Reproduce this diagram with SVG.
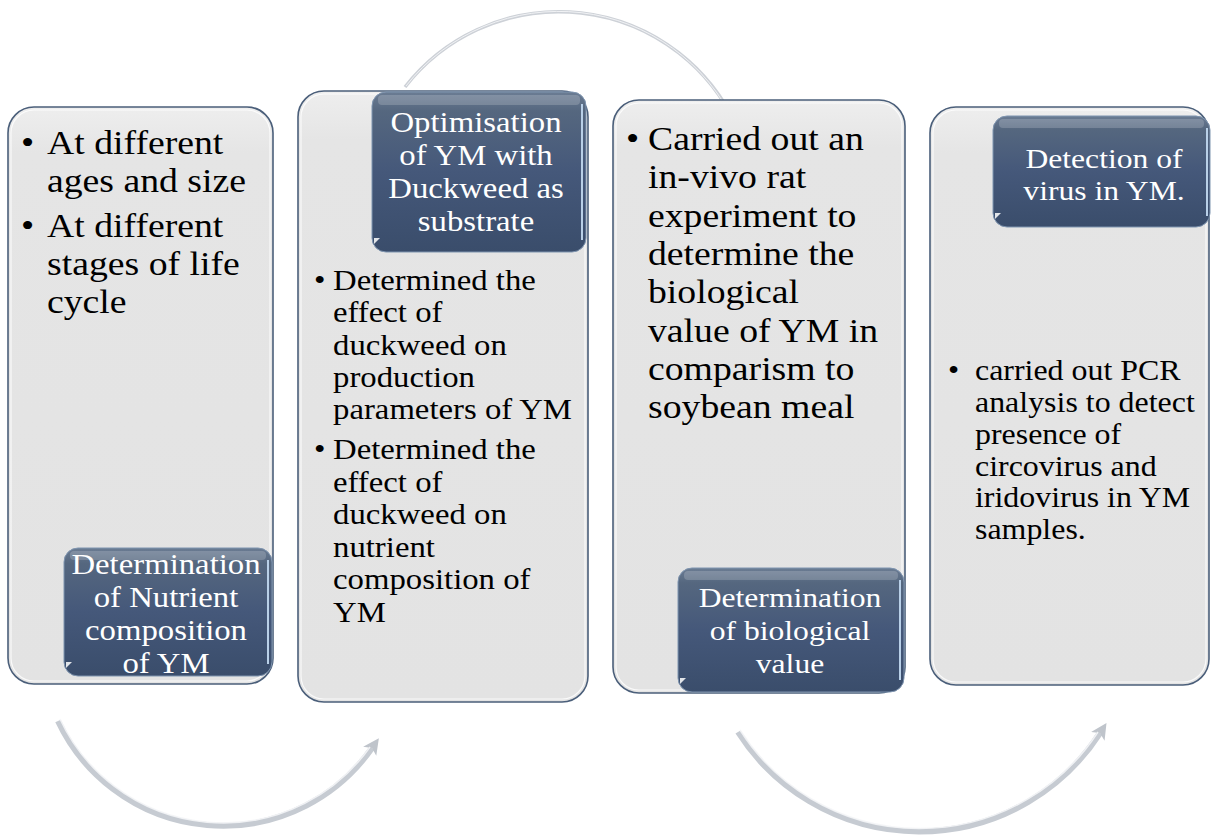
<svg xmlns="http://www.w3.org/2000/svg" width="1211" height="836" viewBox="0 0 1211 836">
<defs>
<linearGradient id="pfill" x1="0" y1="0" x2="0" y2="1">
<stop offset="0" stop-color="#EEEEEE"/>
<stop offset="0.08" stop-color="#E5E5E5"/>
<stop offset="1" stop-color="#E3E3E3"/>
</linearGradient>
<linearGradient id="bfill" x1="0" y1="0" x2="0" y2="1">
<stop offset="0" stop-color="#6B7C93"/>
<stop offset="0.12" stop-color="#55677F"/>
<stop offset="0.5" stop-color="#45587A"/>
<stop offset="1" stop-color="#3A4D6B"/>
</linearGradient>
<marker id="ah" markerUnits="userSpaceOnUse" markerWidth="20" markerHeight="20" refX="4" refY="10" orient="auto">
<path d="M0,2 L16,10 L0,18 L4,10 Z" fill="#BFC4CB"/>
</marker>
<style>
.panel{fill:url(#pfill);stroke:#4B5F7A;stroke-width:1.6}
.pin{fill:none;stroke:#FFFFFF;stroke-width:1.2;opacity:0.8}
.box{fill:url(#bfill);stroke:#7F95B0;stroke-width:1}
.hl{fill:#FFFFFF;opacity:0.18}
.edge{fill:none;stroke:#B9D0E8;stroke-width:2}
.notch{fill:#FFFFFF;opacity:0.85}
.t{font-family:"Liberation Serif","Times New Roman",serif;fill:#000000}
.w{font-family:"Liberation Serif","Times New Roman",serif;fill:#FFFFFF;text-anchor:middle}
.arc{fill:none;stroke:#C6CBD2;stroke-width:6;stroke-linecap:butt}
.arcin{fill:none;stroke:#F4F5F7;stroke-width:1.5;opacity:0.9}
</style>
</defs>

<g id="connectors">
<path class="arc" d="M58,721 A182,182 0 0 0 372,748" marker-end="url(#ah)"/>
<path class="arcin" d="M60,719 A180,180 0 0 0 370,747"/>
<path class="arc" d="M738,732 A215,215 0 0 0 1100,733" marker-end="url(#ah)"/>
<path class="arcin" d="M740,730 A213,213 0 0 0 1098,732"/>
<path class="arc" style="stroke-width:3.5;stroke:#CDD1D7" d="M405,87 A195,195 0 0 1 736,125"/>
<path class="arcin" style="stroke-width:1" d="M406,86 A194,194 0 0 1 735,124"/>
</g>

<g id="node1">
<rect class="panel" x="8" y="107" width="265" height="577" rx="26"/>
<rect class="pin" x="11" y="110" width="259" height="571" rx="23"/>
<text class="t" font-size="34" transform="matrix(1.11 0 0 1 21 0)" y="154">•</text>
<text class="t" font-size="34" transform="matrix(1.11 0 0 1 47 0)" y="154">At different</text>
<text class="t" font-size="34" transform="matrix(1.11 0 0 1 47 0)" y="192">ages and size</text>
<text class="t" font-size="34" transform="matrix(1.11 0 0 1 21 0)" y="237">•</text>
<text class="t" font-size="34" transform="matrix(1.11 0 0 1 47 0)" y="237">At different</text>
<text class="t" font-size="34" transform="matrix(1.11 0 0 1 47 0)" y="275">stages of life</text>
<text class="t" font-size="34" transform="matrix(1.11 0 0 1 47 0)" y="313">cycle</text>
<rect class="box" x="64" y="548" width="208" height="128" rx="14"/>
<rect class="hl" x="70" y="551" width="196" height="9" rx="4"/>
<path class="edge" d="M268,560 L268,664"/>
<path class="notch" d="M66,668 L66,662 L72,662 Z"/>
<text class="w" font-size="29" transform="matrix(1.13 0 0 1 166 0)" y="574">Determination</text>
<text class="w" font-size="29" transform="matrix(1.13 0 0 1 166 0)" y="607">of Nutrient</text>
<text class="w" font-size="29" transform="matrix(1.13 0 0 1 166 0)" y="640">composition</text>
<text class="w" font-size="29" transform="matrix(1.13 0 0 1 166 0)" y="673">of YM</text>
</g>

<g id="node2">
<rect class="panel" x="298" y="91" width="290" height="611" rx="26"/>
<rect class="pin" x="301" y="94" width="284" height="605" rx="23"/>
<rect class="box" x="372" y="92" width="214" height="160" rx="14"/>
<rect class="hl" x="378" y="95" width="202" height="10" rx="4"/>
<path class="edge" d="M582,104 L582,240"/>
<path class="notch" d="M374,244 L374,238 L380,238 Z"/>
<text class="w" font-size="29" transform="matrix(1.13 0 0 1 476 0)" y="132">Optimisation</text>
<text class="w" font-size="29" transform="matrix(1.13 0 0 1 476 0)" y="165">of YM with</text>
<text class="w" font-size="29" transform="matrix(1.13 0 0 1 476 0)" y="198">Duckweed as</text>
<text class="w" font-size="29" transform="matrix(1.13 0 0 1 476 0)" y="231">substrate</text>
<text class="t" font-size="29" transform="matrix(1.13 0 0 1 314 0)" y="290">•</text>
<text class="t" font-size="29" transform="matrix(1.13 0 0 1 333 0)" y="290">Determined the</text>
<text class="t" font-size="29" transform="matrix(1.13 0 0 1 333 0)" y="322">effect of</text>
<text class="t" font-size="29" transform="matrix(1.13 0 0 1 333 0)" y="355">duckweed on</text>
<text class="t" font-size="29" transform="matrix(1.13 0 0 1 333 0)" y="387">production</text>
<text class="t" font-size="29" transform="matrix(1.13 0 0 1 333 0)" y="419">parameters of YM</text>
<text class="t" font-size="29" transform="matrix(1.13 0 0 1 314 0)" y="459">•</text>
<text class="t" font-size="29" transform="matrix(1.13 0 0 1 333 0)" y="459">Determined the</text>
<text class="t" font-size="29" transform="matrix(1.13 0 0 1 333 0)" y="492">effect of</text>
<text class="t" font-size="29" transform="matrix(1.13 0 0 1 333 0)" y="524">duckweed on</text>
<text class="t" font-size="29" transform="matrix(1.13 0 0 1 333 0)" y="557">nutrient</text>
<text class="t" font-size="29" transform="matrix(1.13 0 0 1 333 0)" y="589">composition of</text>
<text class="t" font-size="29" transform="matrix(1.13 0 0 1 333 0)" y="622">YM</text>
</g>

<g id="node3">
<rect class="panel" x="613" y="100" width="292" height="593" rx="26"/>
<rect class="pin" x="616" y="103" width="286" height="587" rx="23"/>
<text class="t" font-size="34" transform="matrix(1.11 0 0 1 626 0)" y="150">•</text>
<text class="t" font-size="34" transform="matrix(1.11 0 0 1 648 0)" y="150">Carried out an</text>
<text class="t" font-size="34" transform="matrix(1.11 0 0 1 648 0)" y="188">in-vivo rat</text>
<text class="t" font-size="34" transform="matrix(1.11 0 0 1 648 0)" y="227">experiment to</text>
<text class="t" font-size="34" transform="matrix(1.11 0 0 1 648 0)" y="265">determine the</text>
<text class="t" font-size="34" transform="matrix(1.11 0 0 1 648 0)" y="303">biological</text>
<text class="t" font-size="34" transform="matrix(1.11 0 0 1 648 0)" y="342">value of YM in</text>
<text class="t" font-size="34" transform="matrix(1.11 0 0 1 648 0)" y="380">comparism to</text>
<text class="t" font-size="34" transform="matrix(1.11 0 0 1 648 0)" y="418">soybean meal</text>
<rect class="box" x="678" y="568" width="226" height="124" rx="14"/>
<rect class="hl" x="684" y="571" width="214" height="9" rx="4"/>
<path class="edge" d="M900,580 L900,680"/>
<path class="notch" d="M680,684 L680,678 L686,678 Z"/>
<text class="w" font-size="28" transform="matrix(1.13 0 0 1 790 0)" y="607">Determination</text>
<text class="w" font-size="28" transform="matrix(1.13 0 0 1 790 0)" y="640">of biological</text>
<text class="w" font-size="28" transform="matrix(1.13 0 0 1 790 0)" y="673">value</text>
</g>

<g id="node4">
<rect class="panel" x="930" y="107" width="279" height="578" rx="26"/>
<rect class="pin" x="933" y="110" width="273" height="572" rx="23"/>
<rect class="box" x="993" y="116" width="217" height="111" rx="14"/>
<rect class="hl" x="999" y="119" width="205" height="9" rx="4"/>
<path class="edge" d="M1207,128 L1207,216"/>
<path class="notch" d="M995,219 L995,213 L1001,213 Z"/>
<text class="w" font-size="28" transform="matrix(1.13 0 0 1 1104 0)" y="168">Detection of</text>
<text class="w" font-size="28" transform="matrix(1.13 0 0 1 1104 0)" y="200">virus in YM.</text>
<text class="t" font-size="28.5" transform="matrix(1.12 0 0 1 948 0)" y="380">•</text>
<text class="t" font-size="28.5" transform="matrix(1.12 0 0 1 975 0)" y="380">carried out PCR</text>
<text class="t" font-size="28.5" transform="matrix(1.12 0 0 1 975 0)" y="412">analysis to detect</text>
<text class="t" font-size="28.5" transform="matrix(1.12 0 0 1 975 0)" y="444">presence of</text>
<text class="t" font-size="28.5" transform="matrix(1.12 0 0 1 975 0)" y="476">circovirus and</text>
<text class="t" font-size="28.5" transform="matrix(1.12 0 0 1 975 0)" y="507">iridovirus in YM</text>
<text class="t" font-size="28.5" transform="matrix(1.12 0 0 1 975 0)" y="539">samples.</text>
</g>
</svg>
